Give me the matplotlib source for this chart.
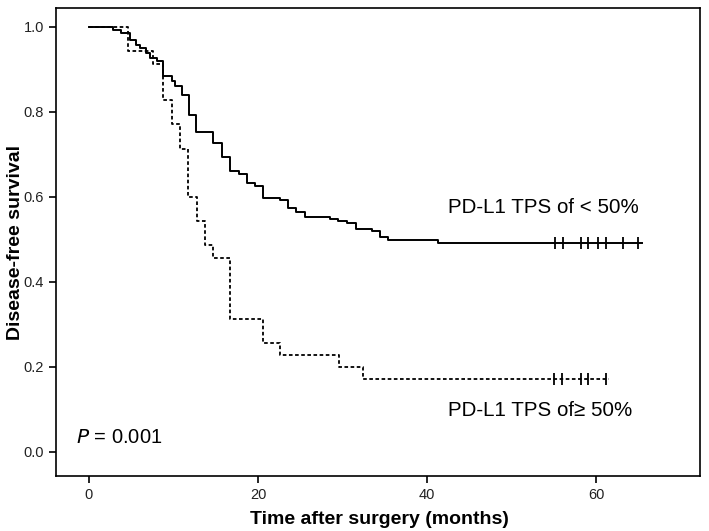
import matplotlib
matplotlib.use("Agg")
import matplotlib.pyplot as plt
from matplotlib import font_manager

# step curves (months, survival after the drop)
low_times = [2.9, 3.8, 4.9, 5.6, 6.0, 6.8, 7.2, 8.0, 8.8, 9.8, 10.2, 11.0, 11.85,
             12.7, 14.7, 15.7, 16.7, 17.7, 18.7, 19.6, 20.6, 22.6, 23.5, 24.5,
             25.6, 28.5, 29.5, 30.5, 31.6, 33.5, 34.4, 35.4, 41.3]
low_surv = [0.993, 0.985, 0.969, 0.958, 0.95, 0.938, 0.927, 0.919, 0.884, 0.872,
            0.86, 0.84, 0.793, 0.752, 0.726, 0.695, 0.661, 0.653, 0.632, 0.627,
            0.597, 0.593, 0.573, 0.565, 0.552, 0.548, 0.544, 0.539, 0.525, 0.52,
            0.505, 0.499, 0.491]
low_censor = [55.2, 56.1, 58.2, 59.1, 60.2, 61.2, 63.2, 65.0]
low_end = 65.4

high_times = [4.6, 7.6, 8.8, 9.8, 10.8, 11.7, 12.8, 13.7, 14.7, 16.7, 20.6, 22.6,
              29.6, 32.4]
high_surv = [0.943, 0.914, 0.829, 0.771, 0.714, 0.6, 0.543, 0.486, 0.457, 0.314,
             0.257, 0.229, 0.2, 0.171]
high_censor = [55.0, 56.0, 58.2, 59.1, 61.2]
high_end = 61.5

x_ticks = [0, 20, 40, 60]
y_ticks = [0.0, 0.2, 0.4, 0.6, 0.8, 1.0]

names = {f.name for f in font_manager.fontManager.ttflist}
base = "Liberation Sans" if "Liberation Sans" in names else "DejaVu Sans"
narrow = "Liberation Sans Narrow" if "Liberation Sans Narrow" in names else base
plt.rcParams["font.family"] = base

fig = plt.figure(figsize=(7.09, 5.31), dpi=100)
ax = fig.add_axes([56 / 709, 55 / 531, 644 / 709, 468 / 531])


def km(times, surv, end):
    t = [0] + list(times) + [end]
    s = [1.0] + list(surv) + [surv[-1]]
    return t, s


t, s = km(low_times, low_surv, low_end)
ax.step(t, s, where="post", color="black", lw=1.4)
ax.plot(low_censor, [low_surv[-1]] * len(low_censor), ls="none", marker="|",
        ms=9, mew=1.3, color="black")

t, s = km(high_times, high_surv, high_end)
ax.step(t, s, where="post", color="black", lw=1.3, ls=(0, (2.0, 1.4)))
ax.plot(high_censor, [high_surv[-1]] * len(high_censor), ls="none", marker="|",
        ms=9, mew=1.3, color="black")

ax.set_xlim(-3.9, 72.3)
ax.set_ylim(-0.0565, 1.0447)
ax.set_xticks(x_ticks)
ax.set_xticklabels([str(v) for v in x_ticks], family=narrow)
ax.set_yticks(y_ticks)
ax.set_yticklabels([f"{v:.1f}" for v in y_ticks], family=narrow)
ax.tick_params(direction="out", length=5, width=1.2, labelsize=10.5,
               colors="black", labelcolor="#222222")
for sp in ax.spines.values():
    sp.set_linewidth(1.2)

ax.set_xlabel("Time after surgery (months)", family=narrow, fontweight="bold",
              fontsize=14)
ax.xaxis.set_label_coords(0.503, -0.075)
ax.set_ylabel("Disease-free survival", fontweight="bold", fontsize=14)
ax.yaxis.set_label_coords(-0.049, 0.5)

ax.text(42.5, 0.576, "PD-L1 TPS of < 50%", fontsize=14.8, va="center")
ax.text(42.5, 0.098, "PD-L1 TPS of\u2265 50%", fontsize=14.8, va="center")
ax.text(-1.5, 0.035, "$\\it{P}$ = 0.001", fontsize=14.5, va="center")

fig.savefig("out.png", dpi=100)
